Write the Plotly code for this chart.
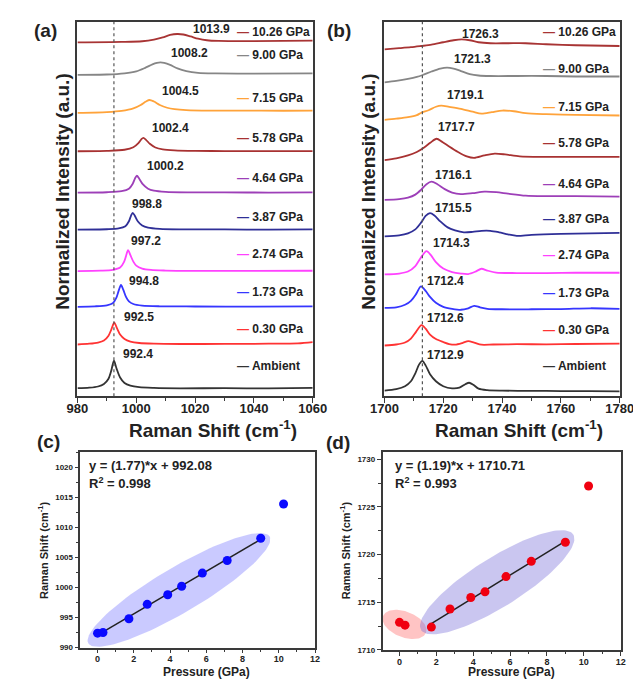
import numpy as np
import plotly.graph_objects as go

W, H = 641, 681
FONT = "Liberation Sans"

# ---------------- data ----------------
labels = ["Ambient", "0.30 GPa", "1.73 GPa", "2.74 GPa", "3.87 GPa",
          "4.64 GPa", "5.78 GPa", "7.15 GPa", "9.00 GPa", "10.26 GPa"]
colors = ["#333333", "#ff3333", "#3636ff", "#ff42ff", "#2f2f97",
          "#9d3fb8", "#a83232", "#ffa33a", "#868686", "#a83434"]
pressure = [0.0, 0.30, 1.73, 2.74, 3.87, 4.64, 5.78, 7.15, 9.00, 10.26]

peak_a = [992.4, 992.5, 994.8, 997.2, 998.8, 1000.2, 1002.4, 1004.5, 1008.2, 1013.9]
peak_b = [1712.9, 1712.6, 1712.4, 1714.3, 1715.5, 1716.1, 1717.7, 1719.1, 1721.3, 1726.3]

shift_c = [992.4, 992.5, 994.8, 997.2, 998.8, 1000.2, 1002.4, 1004.5, 1008.2, 1013.9]
shift_d = [1712.9, 1712.6, 1712.4, 1714.3, 1715.5, 1716.1, 1717.7, 1719.3, 1721.3, 1727.2]
fit_c = (1.77, 992.08)
fit_d = (1.19, 1710.71)
r2_c = 0.998
r2_d = 0.993

# panel (a) spectra: vertical offsets + intensities above offset (a.u.)
offsets_a = [7.7, 52.0, 90.0, 126.0, 167.7, 205.0, 246.7, 287.3, 324.7, 357.3]
xs_a = [
    [980, 984, 987, 989, 990.5, 991.5, 992.4, 993.3, 994.5, 996, 998, 1001, 1006, 1015, 1030, 1045, 1060],
    [980, 984, 987, 989, 990.5, 991.5, 992.5, 993.5, 994.5, 996, 998, 1001, 1006, 1015, 1030, 1045, 1055, 1060],
    [980, 986, 990, 992, 993.2, 994, 994.8, 995.6, 996.5, 997.5, 999, 1002, 1008, 1020, 1040, 1060],
    [980, 988, 992, 994.5, 995.8, 996.5, 997.2, 998, 999, 1000, 1002, 1005, 1010, 1020, 1040, 1060],
    [980, 990, 994, 996.3, 997.5, 998.2, 998.8, 999.5, 1000.5, 1002, 1004, 1008, 1015, 1030, 1045, 1060],
    [980, 990, 995, 997.5, 998.8, 999.6, 1000.2, 1001, 1002.2, 1004, 1006, 1010, 1018, 1030, 1045, 1060],
    [980, 990, 996, 999, 1000.8, 1001.7, 1002.4, 1003.3, 1004.6, 1006.5, 1009, 1013, 1020, 1030, 1045, 1060],
    [980, 990, 995, 999, 1001.5, 1003.3, 1004.5, 1006, 1008, 1010.5, 1013, 1017, 1025, 1035, 1050, 1060],
    [980, 990, 996, 1000, 1003, 1005.5, 1007, 1008.2, 1009.5, 1011.5, 1014, 1017, 1021, 1027, 1040, 1060],
    [980, 995, 1002, 1006, 1009, 1011.5, 1013.9, 1016, 1018.5, 1021, 1024, 1028, 1040, 1060],
]
ys_a = [
    [0.3, 0.8, 2.0, 4.5, 9.5, 18, 28, 20, 11, 5.5, 2.8, 1.3, 0.6, 0.2, 0.3, 0.1, 0.6],
    [0, 0.8, 2.0, 4.0, 8.5, 15, 22, 16, 10, 5.5, 3, 1.5, 0.8, 0.5, 0.6, 0.8, 1.2, 2.5],
    [0, 0.5, 1.5, 3.5, 9, 16, 22, 17, 10, 5.5, 2.8, 1.2, 0.5, 0.3, 0.2, 0.5],
    [0, 0.4, 1.2, 3.5, 9, 15, 21, 16, 9.5, 5.5, 2.5, 1.1, 0.5, 0.2, 0.2, 0.3],
    [0, 0.4, 1.2, 3.5, 8.5, 14, 17, 14, 8.5, 4.2, 2, 0.8, 0.3, 0.2, 0, 0.3],
    [0, 0.4, 1.5, 4, 9, 14.5, 17, 14, 8.5, 4, 2, 0.8, 0.3, 0.2, 0.1, 0.3],
    [0, 0.4, 1.5, 4, 8.5, 12, 13.5, 11.5, 7.5, 3.8, 1.8, 0.8, 0.3, 0.2, 0.1, 0.2],
    [-2, -1.2, 0, 2.5, 6, 9.5, 11, 9.5, 6, 3.2, 1.8, 0.8, 0.3, 0.4, 0.2, 0.4],
    [-1, -0.7, 0.5, 2.5, 6, 9.5, 11, 11.5, 11, 9, 5.5, 2.8, 1, 0.4, 0.2, 0.5],
    [-1, -0.5, 0.2, 1.8, 4, 6.5, 7.5, 7, 5, 2.8, 1.2, 0.5, 0.3, 0.8],
]

# panel (b) spectra: stacked intensities (a.u.)
xs_b = [
    [1700, 1704, 1707, 1709, 1710.5, 1711.8, 1712.9, 1714, 1715.5, 1717.5, 1720, 1723, 1725.5, 1727.5, 1728.8, 1730.2, 1732, 1735, 1740, 1750, 1760, 1770, 1780],
    [1700, 1704, 1707, 1709, 1710.8, 1712.6, 1714, 1715.5, 1717.5, 1720, 1722, 1724, 1726.5, 1728.5, 1730.5, 1733, 1737, 1745, 1755, 1765, 1780],
    [1700, 1704, 1707, 1709, 1710.8, 1712.4, 1714, 1715.5, 1717.5, 1720, 1723, 1726, 1728.5, 1730.5, 1732.5, 1735, 1740, 1750, 1760, 1770, 1780],
    [1700, 1705, 1708, 1710.5, 1712.5, 1714.3, 1715.8, 1717.5, 1720, 1723, 1726, 1728.5, 1731, 1733, 1735, 1738, 1745, 1755, 1765, 1780],
    [1700, 1705, 1708, 1710.5, 1712.5, 1714, 1715.5, 1717, 1719, 1721.5, 1724, 1727, 1730, 1733, 1736, 1739, 1742, 1745, 1750, 1760, 1770, 1780],
    [1700, 1705, 1708, 1710.5, 1712.5, 1714.3, 1716, 1718, 1720.5, 1723, 1726, 1730, 1734, 1738, 1742, 1748, 1755, 1765, 1780],
    [1700, 1704, 1708, 1711, 1713.5, 1715.7, 1717.7, 1719.7, 1722, 1725, 1728, 1730.5, 1734, 1737.5, 1741, 1746, 1755, 1765, 1780],
    [1700, 1704, 1708, 1711, 1712.5, 1715, 1717.5, 1719.3, 1722, 1726, 1730, 1733, 1736.5, 1740, 1744, 1748, 1755, 1765, 1780],
    [1700, 1704, 1708, 1711, 1713, 1716, 1719, 1721.3, 1723.5, 1726, 1729, 1732, 1736, 1745, 1755, 1765, 1780],
    [1700, 1705, 1709, 1712.5, 1716, 1720, 1723.5, 1726.3, 1729, 1732, 1736, 1742, 1748, 1755, 1765, 1780],
]
ys_b = [
    [5.5, 7, 10, 15, 23, 32, 35.5, 31, 22, 15, 10, 7.8, 8.5, 12, 13.5, 11.5, 7.5, 6, 5.5, 5.3, 5.1, 5, 4.7],
    [51, 52, 54, 58, 65, 71.5, 68, 62, 57.5, 54.5, 52.5, 51.8, 53.5, 55.5, 54, 51.8, 52, 52.3, 52.2, 52.5, 52.8],
    [89, 89.5, 92, 96, 103, 110.5, 106, 100, 94, 90, 88, 87, 88.5, 91, 89.5, 88, 87.5, 87.5, 87.7, 88.5, 88],
    [122.7, 123.5, 125.5, 131, 140, 146, 142, 135, 128.5, 125, 123.5, 123, 125.5, 128.3, 126.5, 124.5, 124, 124, 124.3, 124.3],
    [161, 162, 164, 168, 175, 181.5, 184.3, 182, 176, 170, 167, 165, 165.5, 166.5, 166.5, 165, 163, 161.5, 162.5, 163.5, 164, 164.5],
    [197.7, 198.5, 200, 203, 208, 213.5, 216, 213.5, 208.5, 205, 203.5, 204.5, 206, 205.5, 204, 202, 201.5, 201.5, 201],
    [237.7, 239.5, 242.5, 246, 250.5, 255.5, 259.3, 256, 251.5, 246, 241.5, 240, 242.5, 244.3, 243.5, 241.5, 241, 241, 241],
    [278.3, 279.5, 281, 283, 285.5, 288, 291.5, 292.7, 291.5, 289.5, 286.5, 284.5, 286, 287.7, 287, 285, 284, 283.3, 282.7],
    [316, 317.5, 319.5, 321.5, 323.5, 327, 330, 331, 330, 327.5, 324.5, 323, 322.5, 322.5, 322.5, 322, 322],
    [349.3, 350.5, 351.5, 352.7, 354, 356.5, 358.5, 359.3, 358.5, 356.5, 355.5, 355.5, 355.5, 354.5, 353.5, 352.7],
]

# ---------------- layout constants (pixels) ----------------
def px(x):
    return x / W

def py(y):
    return 1 - y / H

LINE = "#3a3a3a"
dom_a_x = [58, 304]
dom_b_x = [379, 625]
dom_ab_y = [14, 391]
dom_c_x = [61, 306.5]
dom_c_y = [447, 644.3]
dom_d_x = [377, 626]
dom_d_y = [447, 646.7]
rng_c_x = [-0.95, 12]
rng_c_y = [990, 1022.6]
rng_d_x = [-0.92, 12]
rng_d_y = [1710, 1730.8]

fig = go.Figure()

# spectra
for i in range(10):
    fig.add_trace(go.Scatter(x=xs_a[i], y=[offsets_a[i] + v for v in ys_a[i]],
                             mode="lines", line=dict(color=colors[i], width=1.8, shape="spline", smoothing=0.8),
                             xaxis="x", yaxis="y", hoverinfo="skip"))
    fig.add_trace(go.Scatter(x=xs_b[i], y=ys_b[i],
                             mode="lines", line=dict(color=colors[i], width=1.8, shape="spline", smoothing=0.8),
                             xaxis="x2", yaxis="y2", hoverinfo="skip"))


# highlight ellipses (decoration) built in pixel space
def ellipse(cx, cy, a, b, ang, dom_x, dom_y, rx, ry, n=120):
    sx = (dom_x[1] - dom_x[0]) / (rx[1] - rx[0])
    sy = (dom_y[1] - dom_y[0]) / (ry[1] - ry[0])
    t = np.linspace(0, 2 * np.pi, n)
    th = np.radians(ang)
    dxp = a * np.cos(t) * np.cos(th) - b * np.sin(t) * np.sin(th)
    dyp = a * np.cos(t) * np.sin(th) + b * np.sin(t) * np.cos(th)
    return cx + dxp / sx, cy + dyp / sy

ex, ey = ellipse(4.49, 999.6, 109, 23, 29.5, dom_c_x, dom_c_y, rng_c_x, rng_c_y)
fig.add_trace(go.Scatter(x=ex, y=ey, mode="lines", fill="toself", line=dict(width=0),
                         fillcolor="rgba(95,95,255,0.33)", xaxis="x3", yaxis="y3", hoverinfo="skip"))
ex, ey = ellipse(0.27, 1712.68, 24, 13, -20, dom_d_x, dom_d_y, rng_d_x, rng_d_y)
fig.add_trace(go.Scatter(x=ex, y=ey, mode="lines", fill="toself", line=dict(width=0),
                         fillcolor="rgba(255,100,100,0.38)", xaxis="x4", yaxis="y4", hoverinfo="skip"))
ex, ey = ellipse(5.3, 1717.1, 93, 25, 31, dom_d_x, dom_d_y, rng_d_x, rng_d_y)
fig.add_trace(go.Scatter(x=ex, y=ey, mode="lines", fill="toself", line=dict(width=0),
                         fillcolor="rgba(115,105,215,0.38)", xaxis="x4", yaxis="y4", hoverinfo="skip"))

# fit lines
fx = [pressure[0], pressure[8]]
fig.add_trace(go.Scatter(x=fx, y=[fit_c[0] * v + fit_c[1] for v in fx], mode="lines",
                         line=dict(color="#222", width=1.5), xaxis="x3", yaxis="y3", hoverinfo="skip"))
fx = [pressure[2], pressure[8]]
fig.add_trace(go.Scatter(x=fx, y=[fit_d[0] * v + fit_d[1] for v in fx], mode="lines",
                         line=dict(color="#222", width=1.5), xaxis="x4", yaxis="y4", hoverinfo="skip"))

# points
fig.add_trace(go.Scatter(x=pressure, y=shift_c, mode="markers",
                         marker=dict(color="#0a0aff", size=9), xaxis="x3", yaxis="y3"))
fig.add_trace(go.Scatter(x=pressure, y=shift_d, mode="markers",
                         marker=dict(color="#f00010", size=9), xaxis="x4", yaxis="y4"))

# dotted reference lines at ambient peak
for xr, xa in (("x", peak_a[0]), ("x2", peak_b[0])):
    fig.add_shape(type="line", xref=xr, yref="y domain" if xr == "x" else "y2 domain",
                  x0=xa, x1=xa, y0=0, y1=1, line=dict(color="#555", width=1.2, dash="dot"))

ann = []

def text(x, y, s, size, xanchor="center", angle=0, color="#222"):
    ann.append(dict(x=px(x), y=py(y), xref="paper", yref="paper", text=s, showarrow=False,
                    xanchor=xanchor, yanchor="middle", textangle=angle,
                    font=dict(family=FONT, size=size, color=color, weight="bold")))

# peak labels
pos_a = [(121, 348.3), (122.7, 311.7), (127.7, 275), (130, 235), (131, 197.7),
         (150, 159), (155.3, 121), (166, 83.7), (175.3, 45.3), (197.7, 21.3)]
pos_b = [(442.7, 349.3), (442.7, 312.7), (442.7, 275), (449.3, 236.7), (451, 201),
         (451, 168.3), (454.3, 120.3), (463.3, 88), (471, 51.3), (479.3, 26)]
for i in range(10):
    text(pos_a[i][0], pos_a[i][1], f"{peak_a[i]:.1f}", 12)
    text(pos_b[i][0], pos_b[i][1], f"{peak_b[i]:.1f}", 12)

# inline legends
leg_a_y = [360.7, 323.3, 286, 248.3, 211, 171.7, 131, 91, 47, 23.7]
leg_b_y = [360.7, 324, 287.3, 249.3, 212.3, 177.3, 136, 99.3, 61.3, 23.7]
for i in range(10):
    s = f"<span style='color:{colors[i]}'>\u2014</span> {labels[i]}"
    text(223, leg_a_y[i], s, 12, xanchor="left")
    text(543, leg_b_y[i], s, 12, xanchor="left")

# panel labels
text(25, 23, "(a)", 19)
text(331, 23, "(b)", 19)
text(28, 437, "(c)", 19)
text(330, 438, "(d)", 19)

# axis titles
text(43, 185, "Normalized Intensity (a.u.)", 19, angle=-90)
text(362, 185, "Normalized Intensity (a.u.)", 19, angle=-90)
text(200, 424, "Raman Shift (cm<sup>-1</sup>)", 19)
text(520, 424, "Raman Shift (cm<sup>-1</sup>)", 19)
text(22, 546, "Raman Shift (cm<sup>-1</sup>)", 11, angle=-90)
text(338, 546, "Raman Shift (cm<sup>-1</sup>)", 11, angle=-90)
text(193, 669, "Pressure (GPa)", 12)
text(512, 669, "Pressure (GPa)", 12)

# equations
text(68, 461, f"y = ({fit_c[0]:.2f})*x + {fit_c[1]:.2f}", 13, xanchor="left")
text(68, 479, f"R<sup>2</sup> = {r2_c:.3f}", 13, xanchor="left")
text(388, 461, f"y = ({fit_d[0]:.2f})*x + {fit_d[1]:.2f}", 13, xanchor="left")
text(388, 479, f"R<sup>2</sup> = {r2_d:.3f}", 13, xanchor="left")

base_axis = dict(showline=True, mirror=True, linecolor=LINE, linewidth=1.5, showgrid=False,
                 zeroline=False)

def xspec(dom, anchor, rng, dtick, mdt, size, tl=5, stand=0):
    return dict(base_axis, domain=[px(dom[0]), px(dom[1])], anchor=anchor, range=rng,
                tick0=rng[0] if dtick == 20 else 0, dtick=dtick, ticks="outside", ticklen=tl,
                tickwidth=1.3, tickcolor=LINE, ticklabelstandoff=stand,
                minor=dict(dtick=mdt, ticks="outside", ticklen=tl * 0.6, tickcolor=LINE, tickwidth=1.1),
                tickfont=dict(family=FONT, size=size, color="#222", weight="bold"))

def ydom(dom):
    return [py(dom[1]), py(dom[0])]

fig.update_layout(
    width=W, height=H, margin=dict(l=0, r=0, t=0, b=0),
    paper_bgcolor="white", plot_bgcolor="white", showlegend=False,
    xaxis=xspec(dom_a_x, "y", [980, 1060], 20, 10, 13, stand=-5),
    xaxis2=xspec(dom_b_x, "y2", [1700, 1780], 20, 10, 13, stand=-5),
    xaxis3=xspec(dom_c_x, "y3", rng_c_x, 2, 1, 9, tl=4, stand=-2),
    xaxis4=xspec(dom_d_x, "y4", rng_d_x, 2, 1, 9, tl=4, stand=-2),
    yaxis=dict(base_axis, domain=ydom(dom_ab_y), anchor="x", range=[0, 377], showticklabels=False, ticks=""),
    yaxis2=dict(base_axis, domain=ydom(dom_ab_y), anchor="x2", range=[0, 377], showticklabels=False, ticks=""),
    yaxis3=dict(base_axis, domain=ydom(dom_c_y), anchor="x3", range=rng_c_y, dtick=5, ticks="outside",
                ticklen=4, tickcolor=LINE, tickwidth=1.3,
                minor=dict(dtick=2.5, ticks="outside", ticklen=2.5, tickcolor=LINE),
                tickfont=dict(family=FONT, size=8, color="#222", weight="bold")),
    yaxis4=dict(base_axis, domain=ydom(dom_d_y), anchor="x4", range=rng_d_y, dtick=5, ticks="outside",
                ticklen=4, tickcolor=LINE, tickwidth=1.3,
                minor=dict(dtick=2.5, ticks="outside", ticklen=2.5, tickcolor=LINE),
                tickfont=dict(family=FONT, size=8, color="#222", weight="bold")),
    annotations=ann,
)

fig.write_html("out.html")
